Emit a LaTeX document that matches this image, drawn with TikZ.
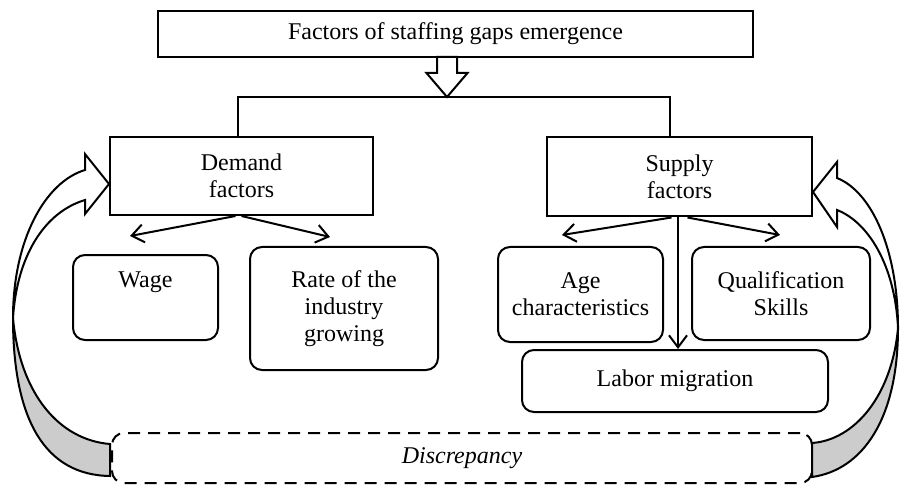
\documentclass[tikz,border=0pt,12pt]{standalone}
\usepackage{fontspec}
\setmainfont{Liberation Serif}
\usetikzlibrary{arrows.meta}

\begin{document}
\begin{tikzpicture}[x=0.5pt, y=-0.5pt, line width=1pt,
  every node/.style={font=\fontsize{12}{13.5}\selectfont, inner sep=0pt, align=center},
  sqbox/.style={draw},
  rbox/.style={draw, rounded corners=6pt},
  hollow/.style={draw, fill=white, line join=miter},
  fold/.style={draw, fill=black!20},
  link/.style={-{Straight Barb[length=6pt,width=9pt]}}]
\useasboundingbox (0,0) rectangle (904,486);

% boxes
\node[sqbox, minimum width=297.5pt, minimum height=23pt] (top) at (455.5,34) {\raisebox{-2pt}{Factors of staffing gaps emergence}};
\node[sqbox, minimum width=131.5pt, minimum height=39pt] (demand) at (241.5,176) {Demand\\factors};
\node[sqbox, minimum width=132.5pt, minimum height=39.5pt] (supply) at (679.5,177) {Supply\\factors};
\node[rbox, minimum width=72.5pt, minimum height=42.5pt] (wage) at (145.5,297.5) {Wage\\\strut};
\node[rbox, minimum width=94pt, minimum height=61.5pt] (rate) at (344,308.5) {Rate of the\\industry\\growing};
\node[rbox, minimum width=82.5pt, minimum height=47.5pt] (age) at (580.5,294.5) {Age\\characteristics};
\node[rbox, minimum width=89pt, minimum height=46.5pt] (qual) at (781,293.5) {Qualification\\Skills};
\node[rbox, minimum width=153pt, minimum height=31pt] (labor) at (675,381) {Labor migration};
\node[rbox, dash pattern=on 6pt off 4pt, minimum width=350pt, minimum height=25pt] (disc) at (462,458) {\itshape Discrepancy};

% split from the top box
\coordinate (hub) at (447,97);
\draw ([xshift=-1.75pt]demand.north) |- (hub) -| ([xshift=-4.75pt]supply.north);
\draw[hollow] (hub) -- ++(-20.5,-24) -- ++(10.5,0) -- ++(0,-16) -- ++(20,0) -- ++(0,16) -- ++(10.5,0) -- cycle;

% demand side
\coordinate (wagetip) at (130,236);
\coordinate (ratetip) at (330,237);
\draw[link] ([xshift=-3pt]demand.south) -- (wagetip);
\draw[link] (demand.south) -- (ratetip);

% supply side
\coordinate (agetip) at (562,235);
\coordinate (qualtip) at (780,235);
\draw[link] ([xshift=-4pt]supply.south) -- (agetip);
\draw[link] ([xshift=4pt]supply.south) -- (qualtip);
\draw[link] ([xshift=-0.75pt]supply.south) -- ([xshift=-0.75pt]supply.south |- labor.north);

% feedback arrows
\coordinate (lfold) at (13,318);
\coordinate (rfold) at (898,328);
\draw[fold] (lfold) .. controls (13,420) and (45,475) .. (110,476) -- (110,444) .. controls (60,440) and (20,395) .. (lfold) -- cycle;
\draw[hollow] ([yshift=-4pt]demand.west) -- (85,154) -- (85,170) .. controls (45,182) and (13,240) .. (lfold) .. controls (17,255) and (45,212) .. (85,200) -- (85,214) -- cycle;
\draw[fold] (rfold) .. controls (898,420) and (862,470) .. (812,477) -- (812,443) .. controls (855,440) and (892,395) .. (rfold) -- cycle;
\draw[hollow] ([yshift=-7.5pt]supply.east) -- (837,162) -- (837,178) .. controls (872,192) and (898,250) .. (rfold) .. controls (895,265) and (868,222) .. (837,210) -- (837,227) -- cycle;
\end{tikzpicture}
\end{document}
